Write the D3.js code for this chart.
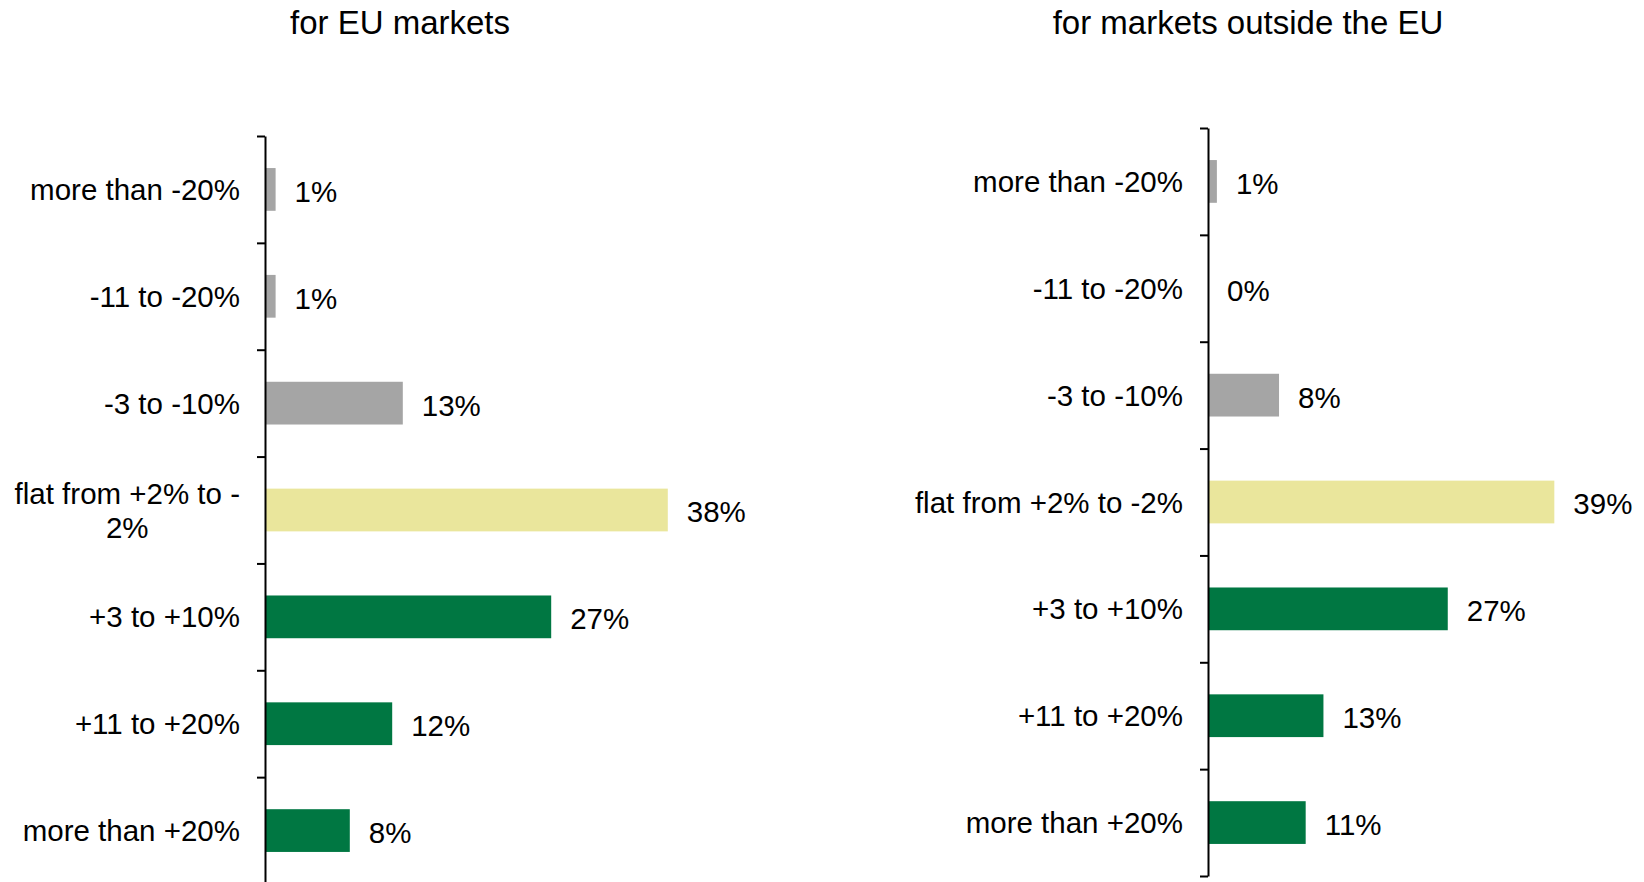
<!DOCTYPE html>
<html>
<head>
<meta charset="utf-8">
<script src="https://cdn.jsdelivr.net/npm/d3@7"></script>
<style>
    body { margin: 0; background: #fff; }
    text { font-family: "Liberation Sans", Arial, sans-serif; fill: #000; }
</style>
</head>
<body>
<script>
var categories = ["more than -20%", "-11 to -20%", "-3 to -10%", "flat from +2% to -2%", "+3 to +10%", "+11 to +20%", "more than +20%"];
var euValues = [1, 1, 13, 38, 27, 12, 8];
var nonEuValues = [1, 0, 8, 39, 27, 13, 11];
var barColors = ["#a5a5a5", "#a5a5a5", "#a5a5a5", "#eae69c", "#007742", "#007742", "#007742"];
var titles = ["for EU markets", "for markets outside the EU"];

var w = 1644;
var h = 882;
var fontSize = 29.5;

var svg = d3.select("body")
    .append("svg")
    .attr("width", w)
    .attr("height", h);

// wraps a label onto several lines, breaking after spaces and hyphens
var wrapLabel = function (textSel, maxWidth, lineHeight) {
    textSel.each(function () {
        var text = d3.select(this);
        var words = text.text().split(/(?<=[ -])/);
        var x = text.attr("x");
        var lines = [];
        var line = "";
        text.text(null);
        var probe = text.append("tspan");
        words.forEach(function (word) {
            var test = line + word;
            probe.text(test.trim());
            if (probe.node().getComputedTextLength() > maxWidth && line !== "") {
                lines.push(line.trim());
                line = word;
            } else {
                line = test;
            }
        });
        lines.push(line.trim());
        probe.remove();

        var first = -(lines.length - 1) / 2 * lineHeight + 0.36 * fontSize;
        lines.forEach(function (l, i) {
            text.append("tspan")
                .attr("class", "line")
                .attr("x", x)
                .attr("dy", i === 0 ? first : lineHeight)
                .text(l);
        });

        // center the wrapped lines against the widest one
        if (lines.length > 1) {
            var widths = [];
            text.selectAll("tspan.line").each(function () { widths.push(this.getComputedTextLength()); });
            var maxW = d3.max(widths);
            text.attr("text-anchor", "middle");
            text.selectAll("tspan.line").attr("x", +x - maxW / 2);
        }
    });
}

var drawPanel = function (opts) {
    var g = svg.append("g");

    var y = d3.scaleBand()
        .domain(categories)
        .range([opts.top, opts.bottom])
        .paddingInner(0.6)
        .paddingOuter(0.3);

    var x = d3.scaleLinear()
        .domain([0, 40])
        .range([opts.left, opts.left + opts.pxPerUnit * 40]);

    var boundaries = d3.scaleLinear()
        .domain([0, categories.length])
        .range([opts.top, opts.bottom]);

    g.append("text")
        .attr("x", opts.titleX)
        .attr("y", 34)
        .attr("text-anchor", "middle")
        .style("font-size", "33px")
        .text(opts.title);

    g.selectAll("rect")
        .data(opts.values)
        .enter()
        .append("rect")
        .attr("x", x(0))
        .attr("y", (d, i) => { return y(categories[i]) })
        .attr("width", (d) => { return x(d) - x(0) })
        .attr("height", y.bandwidth())
        .style("fill", (d, i) => { return barColors[i] });

    g.selectAll("text.value")
        .data(opts.values)
        .enter()
        .append("text")
        .attr("class", "value")
        .attr("x", (d) => { return x(d) + 19 })
        .attr("y", (d, i) => { return y(categories[i]) + y.bandwidth() / 2 })
        .attr("dy", "0.42em")
        .style("font-size", fontSize + "px")
        .text((d) => { return d + "%" });

    g.selectAll("text.cat")
        .data(categories)
        .enter()
        .append("text")
        .attr("class", "cat")
        .attr("x", opts.left - 25)
        .attr("y", (d) => { return y(d) + y.bandwidth() / 2 })
        .attr("text-anchor", "end")
        .style("font-size", fontSize + "px")
        .text((d) => { return d })
        .call(wrapLabel, opts.labelWidth, 34);

    var axis = d3.axisLeft(boundaries)
        .tickValues(d3.range(categories.length + 1))
        .tickSize(8)
        .tickSizeOuter(0)
        .tickFormat("");

    g.append("g")
        .attr("transform", "translate(" + opts.left + ",0)")
        .call(axis)
        .call((a) => { a.selectAll("path, line").attr("stroke", "#000").attr("stroke-width", 2) });
}

drawPanel({
    title: titles[0],
    titleX: 400,
    values: euValues,
    left: 265,
    top: 136,
    bottom: 884,
    pxPerUnit: 10.6,
    labelWidth: 235
});

drawPanel({
    title: titles[1],
    titleX: 1248,
    values: nonEuValues,
    left: 1208,
    top: 128,
    bottom: 876,
    pxPerUnit: 8.88,
    labelWidth: 330
});
</script>
</body>
</html>
